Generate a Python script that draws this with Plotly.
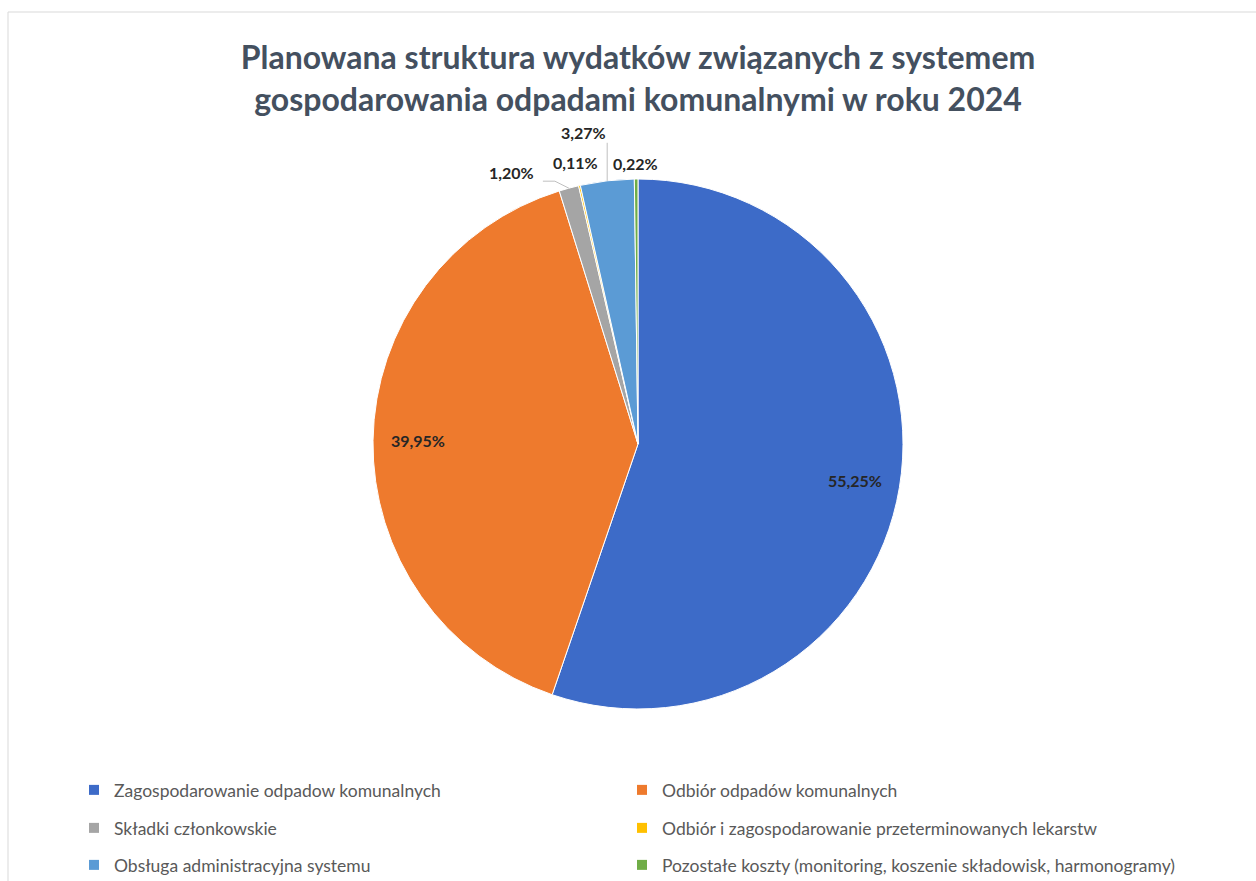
import math
import plotly.graph_objects as go

categories = [
    "Zagospodarowanie odpadow komunalnych",
    "Odbiór odpadów komunalnych",
    "Składki członkowskie",
    "Odbiór i zagospodarowanie przeterminowanych lekarstw",
    "Obsługa administracyjna systemu",
    "Pozostałe koszty (monitoring, koszenie składowisk, harmonogramy)",
]
shares = [55.25, 39.95, 1.20, 0.11, 3.27, 0.22]
colors = ["#3D6BC8", "#EE7A2D", "#A5A5A5", "#FFC000", "#5B9BD5", "#70AD47"]
label_inside = [True, True, False, False, False, False]

W, H = 1256, 881
cx, cy, r = 638, 444, 265

# style offsets (pixels) of outside labels relative to the slice edge, and leader-line style
outside_offsets = {2: (-57, -16), 3: (-4, -23), 4: (-24, -48), 5: (-1, -16)}
leader_paths = {2: [(-14, -7), (-26, -7)], 4: [(0, -38)]}


def px_to_paper(x, y):
    return x / W, 1 - y / H


fig = go.Figure()
fig.add_trace(go.Pie(
    labels=categories,
    values=shares,
    sort=False,
    direction="clockwise",
    rotation=0,
    marker=dict(colors=colors, line=dict(color="white", width=1)),
    textinfo="none",
    showlegend=False,
    automargin=False,
    domain=dict(x=[(cx - r) / W, (cx + r) / W], y=[(H - cy - r) / H, (H - cy + r) / H]),
    hoverinfo="label+percent",
))

# data labels placed from the cumulative shares (slice bisectors)
annotations = []
shapes = []
total = sum(shares)
cum = 0.0
lab_font = dict(family="Lato", size=16, color="#262626")
for i, v in enumerate(shares):
    mid = (cum + v / 2) / total * 2 * math.pi
    cum += v
    txt = f"<b>{v:.2f}%</b>".replace(".", ",")
    if label_inside[i]:
        lx = cx + 0.83 * r * math.sin(mid)
        ly = cy - 0.83 * r * math.cos(mid)
        px, py = px_to_paper(lx, ly)
    else:
        ax_, ay_ = cx + r * math.sin(mid), cy - r * math.cos(mid)
        ox, oy = outside_offsets[i]
        px, py = px_to_paper(ax_ + ox, ay_ + oy)
        if i in leader_paths:
            pts = [(ax_, ay_)] + [(ax_ + dx, ay_ + dy) for dx, dy in leader_paths[i]]
            path = ""
            for k, (x, y) in enumerate(pts):
                pxp, pyp = px_to_paper(x, y)
                path += ("M" if k == 0 else " L") + f" {pxp:.5f},{pyp:.5f}"
            shapes.append(dict(type="path", path=path, xref="paper", yref="paper",
                               line=dict(color="#BFBFBF", width=1)))
    annotations.append(dict(x=px, y=py, xref="paper", yref="paper", text=txt,
                            xanchor="center", yanchor="middle",
                            showarrow=False, font=lab_font))

# legend: two columns, three rows (one single-item legend per entry)
col_x = [74, 622]
rows_y = [790, 828, 865]
leg_layout = {}
for i, (cat, col) in enumerate(zip(categories, colors)):
    lname = "legend" if i == 0 else f"legend{i + 1}"
    fig.add_trace(go.Scatter(
        x=[None], y=[None], mode="markers", name=cat,
        marker=dict(symbol="square", size=10, color=col),
        legend=lname, showlegend=True,
    ))
    leg_layout[lname] = dict(
        orientation="h", xanchor="left", yanchor="middle",
        x=col_x[i % 2] / W, y=1 - rows_y[i // 2] / H,
        font=dict(family="Lato", size=17.5, color="#595959"),
        bgcolor="rgba(0,0,0,0)", itemclick=False, itemdoubleclick=False,
    )

shapes.insert(0, dict(type="rect", xref="paper", yref="paper",
                      x0=8 / W, x1=1.05, y0=-0.05, y1=1 - 12 / H,
                      line=dict(color="#D9D9D9", width=1), layer="below"))

fig.update_layout(
    width=W, height=H,
    margin=dict(l=0, r=0, t=0, b=0, autoexpand=False),
    paper_bgcolor="white", plot_bgcolor="white",
    title=dict(
        text="<b>Planowana struktura wydatków związanych z systemem<br>gospodarowania odpadami komunalnymi w roku 2024</b>",
        x=638 / W, xanchor="center", y=1 - 69 / H, yanchor="middle",
        font=dict(family="Lato", size=32, color="#44505F"),
    ),
    xaxis=dict(visible=False), yaxis=dict(visible=False),
    shapes=shapes,
    annotations=annotations,
    **leg_layout,
)

fig.write_html("out.html", config={"displayModeBar": False},
               post_script="document.body.style.margin='0';")
